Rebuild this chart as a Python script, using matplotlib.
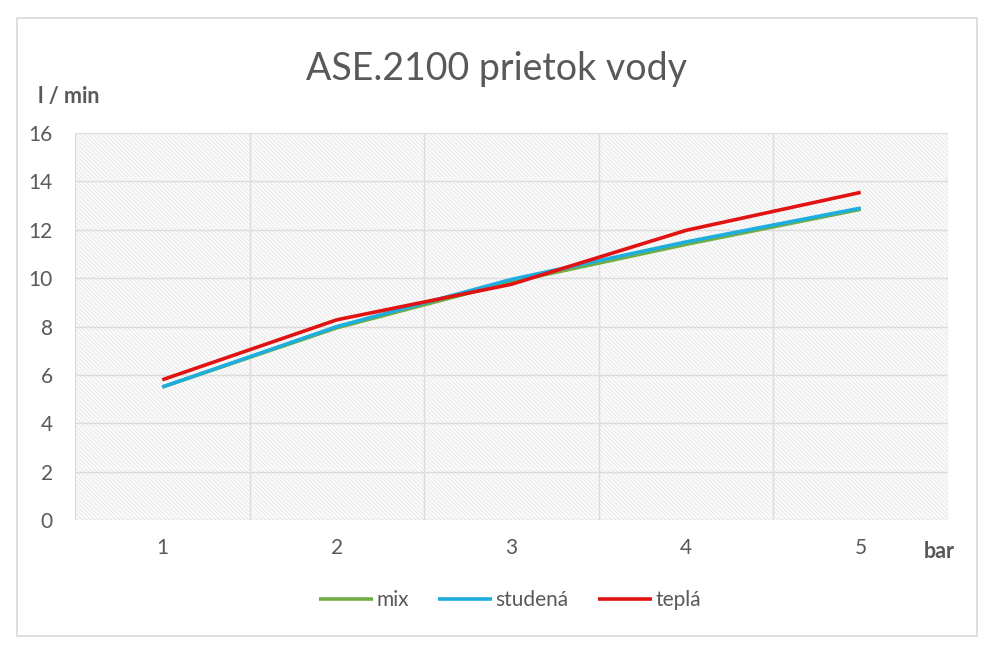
import matplotlib.pyplot as plt
from matplotlib.patches import Rectangle

tlak = [1, 2, 3, 4, 5]
mix = [5.5, 7.95, 9.85, 11.4, 12.85]
studena = [5.5, 8.0, 9.95, 11.5, 12.9]
tepla = [5.8, 8.28, 9.75, 11.98, 13.55]
nazvy = ["mix", "studená", "teplá"]
farby = ["#70AD47", "#1DAEDF", "#E01212"]

plt.rcParams['font.family'] = ['Lato', 'DejaVu Sans']
plt.rcParams['hatch.color'] = '#e2e2e2'
plt.rcParams['hatch.linewidth'] = 0.5

fig = plt.figure(figsize=(10, 6.58), dpi=100)
ax = fig.add_axes([0.075, 0.2097, 0.873, 0.588])

# sraflovane pozadie
ax.add_patch(Rectangle((0, 0), 1, 1, transform=ax.transAxes, facecolor='#fbfbfb',
                       edgecolor='#e2e2e2', hatch='\\' * 8, linewidth=0, zorder=0))

for y, n, c in zip([mix, studena, tepla], nazvy, farby):
    ax.plot(tlak, y, color=c, lw=2.6, label=n, zorder=3, solid_capstyle='butt')

ax.set_xlim(0.5, 5.5)
ax.set_ylim(0, 16)
ax.set_yticks(range(0, 17, 2))
ax.set_xticks(tlak)
ax.set_xticks([x + 0.5 for x in range(0, 6)] + tlak, minor=True)
ax.grid(True, which='minor', axis='x', color='#dcdcdc', lw=1, zorder=1)
ax.grid(True, which='major', axis='y', color='#dcdcdc', lw=1, zorder=1)
ax.tick_params(which='both', length=0, labelsize=15, labelcolor='#595959')
ax.tick_params(axis='x', pad=13)
ax.tick_params(axis='y', pad=16)
for s in ax.spines.values():
    s.set_visible(False)

fig.text(0.497, 0.895, "ASE.2100 prietok vody", ha='center', va='center',
         fontsize=27, color='#595959')
fig.text(0.038, 0.853, "l / min", ha='left', va='center', fontsize=15.5,
         fontweight='bold', color='#595959')
fig.text(0.924, 0.162, "bar", ha='left', va='center', fontsize=15.5,
         fontweight='bold', color='#595959')

fig.legend(loc='center', bbox_to_anchor=(0.51, 0.088), ncol=3, frameon=False,
           fontsize=15, labelcolor='#595959', handlelength=2.6, handletextpad=0.15,
           columnspacing=1.4)

fig.add_artist(Rectangle((0.017, 0.033), 0.96, 0.94, transform=fig.transFigure,
                         fill=False, edgecolor='#d9d9d9', lw=1.2))

fig.savefig("out.png", dpi=100)
